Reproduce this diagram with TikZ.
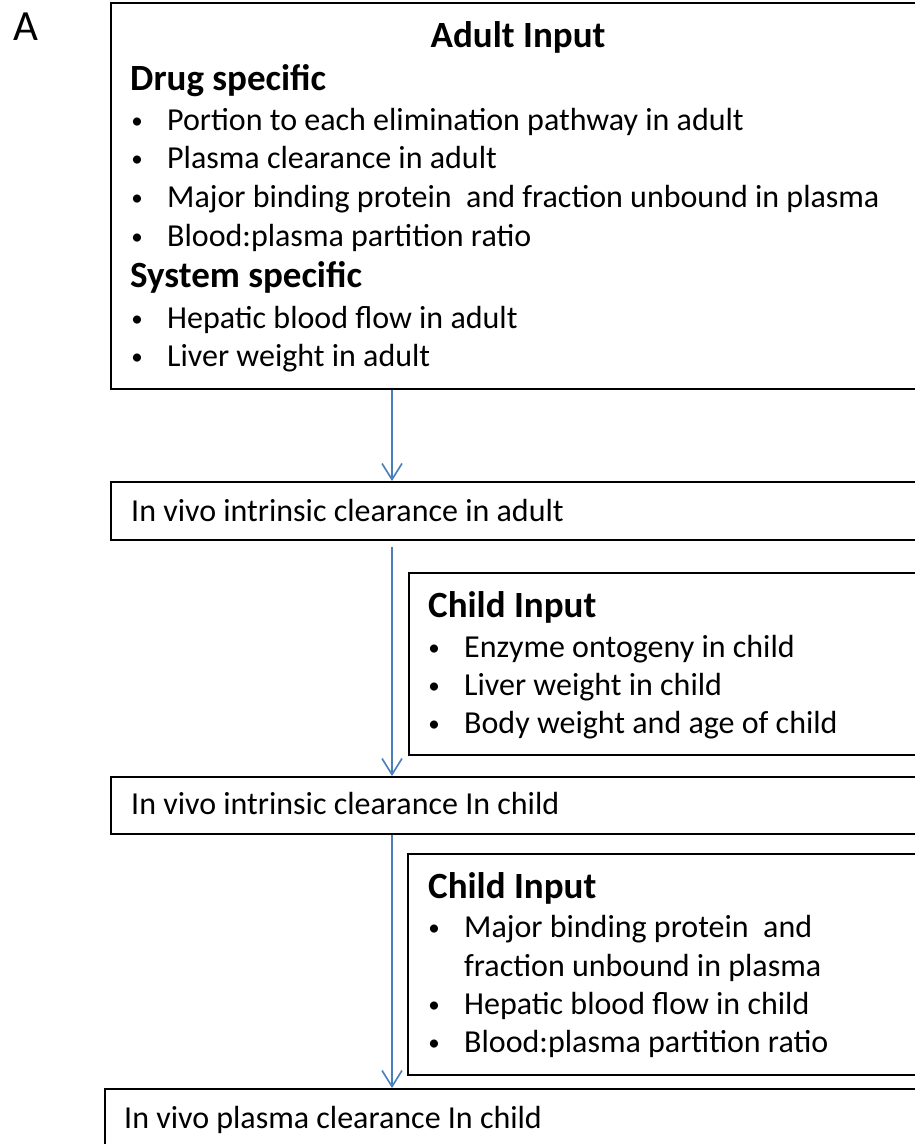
\documentclass[tikz,border=0pt]{standalone}
\usepackage{fontspec}
\setmainfont{Carlito}
\usepackage{tikz}
\usetikzlibrary{arrows.meta}
\definecolor{arrowblue}{RGB}{74,126,187}
\newcommand{\bul}{\llap{\makebox[60pt]{\raisebox{1.5pt}{\fontsize{23}{23}\selectfont\textbullet}}}}

\begin{document}
\begin{tikzpicture}[x = 1pt, y = -1pt,
  box/.style = {draw, line width = 2.4pt, anchor = north west, inner sep = 0pt},
  flow/.style = {draw = arrowblue, line width = 1.6pt, -{Straight Barb[length = 16pt, width = 20pt]}},
  head/.style = {anchor = base west, inner sep = 0pt, font = \fontsize{37}{42}\selectfont\bfseries},
  txt/.style = {anchor = base west, inner sep = 0pt, font = \fontsize{32}{38}\selectfont}]
\useasboundingbox (0, 0) rectangle (915, 1144);
\clip (0, 0) rectangle (915, 1144);
%\draw[very thin, color = gray, step = 50](0, 0) grid (915, 1144);
\node (panel) [txt, font = \fontsize{43}{48}\selectfont] at (13, 40) {A};
% boxes
\node (adult) [box, minimum width = 850pt, minimum height = 386pt] at (110, 2) {};
\node (clintadult) [box, minimum width = 850pt, minimum height = 58pt] at (110, 481) {};
\node (childinA) [box, minimum width = 550pt, minimum height = 182pt] at (408, 572) {};
\node (clintchild) [box, minimum width = 850pt, minimum height = 57pt] at (110, 776) {};
\node (childinB) [box, minimum width = 550pt, minimum height = 221pt] at (407, 853) {};
\node (clchild) [box, minimum width = 850pt, minimum height = 100pt] at (104, 1088) {};
% adult input
\node (adulttitle) [head, anchor = base] at (518, 47) {Adult Input};
\node (drughead) [head] at (130, 90) {Drug specific};
\node (portion) [txt] at (167, 130) {\bul Portion to each elimination pathway in adult};
\node (plasmacl) [txt] at (167, 168) {\bul Plasma clearance in adult};
\node (binding) [txt] at (167, 207) {\bul Major binding protein \ and fraction unbound in plasma};
\node (bpratio) [txt] at (167, 246) {\bul Blood:plasma partition ratio};
\node (syshead) [head] at (130, 287) {System specific};
\node (hepflow) [txt] at (167, 328) {\bul Hepatic blood flow in adult};
\node (liverwt) [txt] at (167, 366) {\bul Liver weight in adult};
% clearance steps
\node (clintadulttext) [txt] at (131, 521) {In vivo intrinsic clearance in adult};
\node (clintchildtext) [txt] at (131, 814) {In vivo intrinsic clearance In child};
\node (clchildtext) [txt] at (124, 1128) {In vivo plasma clearance In child};
% child input 1
\node (childheadA) [head] at (428, 617) {Child Input};
\node (ontogeny) [txt] at (464, 657) {\bul Enzyme ontogeny in child};
\node (liverchild) [txt] at (464, 695) {\bul Liver weight in child};
\node (bodywt) [txt] at (464, 733) {\bul Body weight and age of child};
% child input 2
\node (childheadB) [head] at (428, 898) {Child Input};
\node (bindchild) [txt] at (464, 937) {\bul Major binding protein \ and};
\node (fuchild) [txt] at (464, 976) {fraction unbound in plasma};
\node (hepchild) [txt] at (464, 1014) {\bul Hepatic blood flow in child};
\node (bpchild) [txt] at (464, 1052) {\bul Blood:plasma partition ratio};
% arrows
\coordinate (spine) at (392, 0);
\draw[flow] (spine |- adult.south) -- (spine |- clintadult.north);
\draw[flow, shorten <= 6pt] (spine |- clintadult.south) -- (spine |- clintchild.north);
\draw[flow] (spine |- clintchild.south) -- (spine |- clchild.north);
\end{tikzpicture}
\end{document}
